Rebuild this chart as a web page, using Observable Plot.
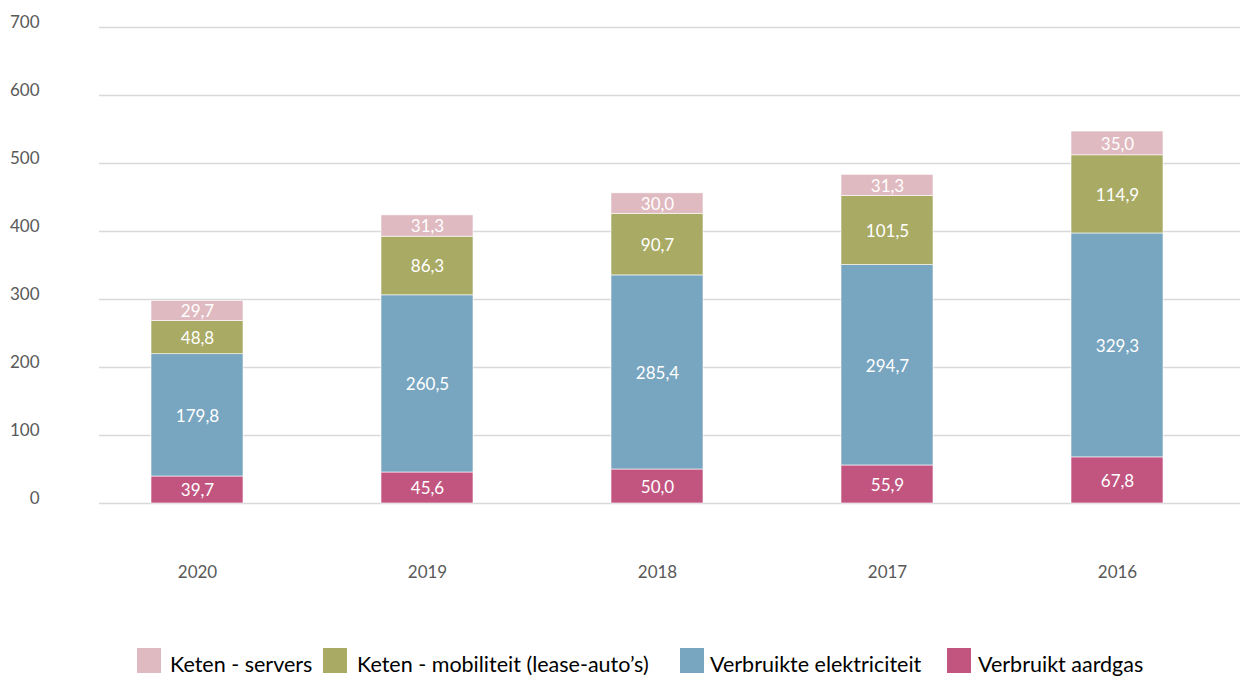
<!DOCTYPE html>
<html>
<head>
<meta charset="utf-8">
<script src="https://cdn.jsdelivr.net/npm/d3@7"></script>
<script src="https://cdn.jsdelivr.net/npm/@observablehq/plot@0.6"></script>
<style>
  html, body { margin: 0; padding: 0; background: #fff; }
  body { width: 1240px; height: 676px; position: relative; overflow: hidden; font-family: Lato, "Open Sans", sans-serif; }
  #chart { position: absolute; left: 0; top: 0; }
  .leg { position: absolute; }
  .sw { width: 24px; height: 25px; }
  .lt { font-size: 21.5px; color: #000; white-space: nowrap; line-height: 22px; height: 22px; }
</style>
</head>
<body>
<div id="chart"></div>
<div id="legend"></div>
<script>
const years = ["2020", "2019", "2018", "2017", "2016"];
const seriesNames = ["Verbruikt aardgas", "Verbruikte elektriciteit", "Keten - mobiliteit (lease-auto’s)", "Keten - servers"];
const aardgas = [39.7, 45.6, 50.0, 55.9, 67.8];
const elektriciteit = [179.8, 260.5, 285.4, 294.7, 329.3];
const mobiliteit = [48.8, 86.3, 90.7, 101.5, 114.9];
const servers = [29.7, 31.3, 30.0, 31.3, 35.0];
const yTicks = [0, 100, 200, 300, 400, 500, 600, 700];
const colors = ["#c25580", "#78a5bf", "#a9aa64", "#dfbac0"];
const legendOrder = [3, 2, 1, 0];

const seriesValues = [aardgas, elektriciteit, mobiliteit, servers];
const data = [];
seriesNames.forEach((s, si) => {
  years.forEach((y, yi) => data.push({year: y, series: s, value: seriesValues[si][yi]}));
});
const fmt = v => d3.format(".1f")(v).replace(".", ",");

const chart = Plot.plot({
  width: 1240,
  height: 610,
  marginLeft: 82,
  marginRight: 8,
  marginTop: 27,
  marginBottom: 107,
  style: {fontFamily: "Lato, 'Open Sans', sans-serif", fontSize: "17px", color: "#595959", background: "#fff"},
  x: {domain: years, paddingInner: 0.6, paddingOuter: 0.3, label: null},
  y: {domain: [0, 700], label: null},
  color: {domain: seriesNames, range: colors},
  marks: [
    Plot.ruleY(yTicks, {stroke: "#d9d9d9", strokeWidth: 1.3, insetLeft: 17, insetRight: -8}),
    Plot.barY(data, {x: "year", y: "value", fill: "series", stroke: "#ffffff", strokeWidth: 0.6}),
    Plot.text(data, Plot.stackY({x: "year", y: "value", z: "series", text: d => fmt(d.value), fill: "#ffffff", fontSize: 17, dy: 1})),
    Plot.axisX({tickSize: 0, tickPadding: 62, fontSize: 17, fill: "#595959"}),
    Plot.axisY({ticks: yTicks, tickSize: 0, tickPadding: 43, textAnchor: "end", dy: -5, fontSize: 17, fill: "#595959", tickFormat: d => String(d)})
  ]
});
document.getElementById("chart").appendChild(chart);

const legendX = [[137, 170], [323, 357], [680, 710], [947, 978]];
const legend = document.getElementById("legend");
legendOrder.forEach((si, i) => {
  const sw = document.createElement("div");
  sw.className = "leg sw";
  sw.style.left = legendX[i][0] + "px";
  sw.style.top = "648px";
  sw.style.background = colors[si];
  legend.appendChild(sw);
  const t = document.createElement("div");
  t.className = "leg lt";
  t.style.left = legendX[i][1] + "px";
  t.style.top = "653px";
  t.textContent = seriesNames[si];
  legend.appendChild(t);
});
</script>
</body>
</html>
